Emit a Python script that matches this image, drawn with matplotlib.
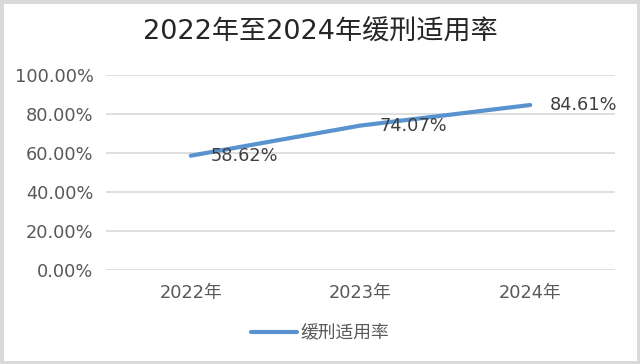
import matplotlib
matplotlib.use("Agg")
import matplotlib.pyplot as plt
from matplotlib.patches import Rectangle

plt.rcParams["font.family"] = ["DejaVu Sans", "Noto Sans CJK SC"]

years = ["2022年", "2023年", "2024年"]
rates = [0.5862, 0.7407, 0.8461]
series_name = "缓刑适用率"
title = "2022年至2024年缓刑适用率"
yticks = [0.0, 0.2, 0.4, 0.6, 0.8, 1.0]

LINE_COLOR = "#5893cf"
TEXT_COLOR = "#595959"

fig = plt.figure(figsize=(6.4, 3.64), dpi=100, facecolor="white")
ax = fig.add_axes([106 / 640, 1 - 270 / 364, 509 / 640, 195 / 364])

x = list(range(len(years)))
line, = ax.plot(x, rates, color=LINE_COLOR, linewidth=3.0,
                solid_capstyle="round", label=series_name, zorder=3)

for xi, v in zip(x, rates):
    ax.annotate(f"{v * 100:.2f}%", (xi, v), xytext=(14, 0),
                textcoords="offset points", va="center", ha="left",
                fontsize=12.8, color="#404040", zorder=4)

ax.set_xlim(-0.5, len(years) - 0.5)
ax.set_ylim(0, 1)
ax.set_yticks(yticks)
ax.set_yticklabels([f"{t * 100:.2f}%" for t in yticks])
ax.set_xticks(x)
ax.set_xticklabels(years)
ax.tick_params(axis="both", length=0, labelsize=12.8, colors=TEXT_COLOR)
ax.tick_params(axis="y", pad=9)
ax.tick_params(axis="x", pad=10)
ax.grid(axis="y", color="#d9d9d9", linewidth=1.2)
ax.set_axisbelow(True)
for s in ax.spines.values():
    s.set_visible(False)

fig.text(0.5, 1 - 32 / 364, title, ha="center", va="center",
         fontsize=19.5, color="#262626")

fig.legend(handles=[line], loc="center", bbox_to_anchor=(0.5, 1 - 333 / 364),
           frameon=False, fontsize=12.8, handlelength=2.6, handletextpad=0.2,
           labelcolor=TEXT_COLOR)

fig.patches.append(Rectangle((0, 0), 1, 1, transform=fig.transFigure,
                             fill=False, edgecolor="#d9d9d9", linewidth=5))

fig.savefig("out.png", dpi=100, facecolor="white")
